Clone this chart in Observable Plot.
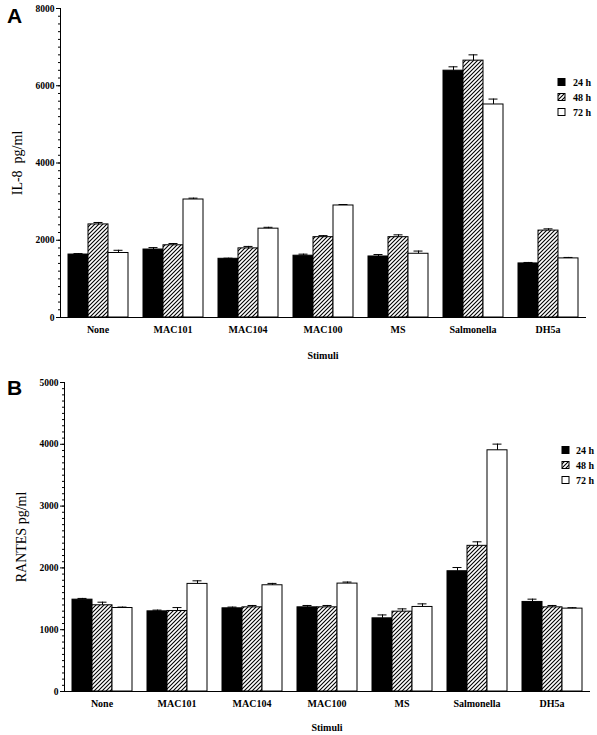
<!DOCTYPE html>
<html><head><meta charset="utf-8">
<script src="https://cdn.jsdelivr.net/npm/d3@7"></script>
<script src="https://cdn.jsdelivr.net/npm/@observablehq/plot@0.6"></script>
<style>
body{margin:0;background:#fff;}
#wrap{position:relative;width:597px;height:735px;overflow:hidden;background:#fff;}
.panel{position:absolute;left:0;}
.letter{position:absolute;font-family:"Liberation Sans",Arial,sans-serif;font-weight:bold;font-size:21px;line-height:1;}
.legend{position:absolute;overflow:visible;}
</style></head><body>
<svg width="0" height="0" style="position:absolute">
<defs>
<pattern id="hatch" patternUnits="userSpaceOnUse" width="4" height="4">
<rect width="4" height="4" fill="white"/>
<path d="M-1,1 l2,-2 M0,4 l4,-4 M3,5 l2,-2" stroke="black" stroke-width="1.1"/>
</pattern></defs></svg>
<div id="wrap"></div>
<script>
const stimuli = ["None","MAC101","MAC104","MAC100","MS","Salmonella","DH5a"];
const times = ["24 h","48 h","72 h"];

const il8_24 = [1630, 1760, 1520, 1600, 1580, 6390, 1400];
const il8_48 = [2410, 1870, 1790, 2080, 2080, 6650, 2250];
const il8_72 = [1670, 3055, 2300, 2900, 1650, 5515, 1530];
const il8_err24 = [25, 50, 15, 40, 50, 100, 25];
const il8_err48 = [50, 45, 50, 40, 60, 150, 45];
const il8_err72 = [70, 35, 35, 25, 70, 140, 25];

const rantes_24 = [1486, 1297, 1346, 1362, 1184, 1946, 1449];
const rantes_48 = [1395, 1303, 1362, 1362, 1292, 2357, 1362];
const rantes_72 = [1351, 1741, 1719, 1746, 1368, 3903, 1341];
const rantes_err24 = [20, 20, 20, 30, 55, 60, 45];
const rantes_err48 = [50, 55, 30, 30, 45, 65, 30];
const rantes_err72 = [15, 50, 30, 25, 50, 100, 15];

const fills = ["black", "url(#hatch)", "white"];

function rows(vals, errs) {
  return stimuli.flatMap((s, i) => times.map((t, j) => ({stim: s, time: t, value: vals[j][i], err: errs[j][i]})));
}
const dataA = rows([il8_24, il8_48, il8_72], [il8_err24, il8_err48, il8_err72]);
const dataB = rows([rantes_24, rantes_48, rantes_72], [rantes_err24, rantes_err48, rantes_err72]);

const serif = "'Liberation Serif','Times New Roman',serif";

function panel({data, yMax, yStep, minorStep, yLabel, height, mt, mb, ml, mr, xLabelOffset}) {
  return Plot.plot({
    width: 597, height,
    marginTop: mt, marginBottom: mb, marginLeft: ml, marginRight: mr,
    style: {fontFamily: serif, fontSize: "10px", fontWeight: "bold", background: "white", color: "black", overflow: "visible"},
    fx: {domain: stimuli, padding: 0},
    x: {domain: times, paddingInner: 0, paddingOuter: 0.37, axis: null},
    y: {domain: [0, yMax]},
    marks: [
      ...times.map((t, j) => Plot.barY(data.filter(d => d.time === t), {fx: "stim", x: "time", y: "value", fill: fills[j], stroke: "black", strokeWidth: 1})),
      Plot.ruleX(data, {fx: "stim", x: "time", y1: "value", y2: d => d.value + d.err, stroke: "black", strokeWidth: 1}),
      Plot.tickY(data, {fx: "stim", x: "time", y: d => d.value + d.err, insetLeft: 5.5, insetRight: 5.5, stroke: "black", strokeWidth: 1}),
      Plot.frame({anchor: "left", facet: "super", stroke: "black"}),
      Plot.frame({anchor: "bottom", facet: "super", stroke: "black"}),
      Plot.axisY({ticks: d3.range(0, yMax + 1, yStep), tickSize: 4, tickPadding: 2, tickFormat: d => String(d), label: null, fontWeight: "bold", fontSize: 9.5}),
      Plot.axisY({ticks: d3.range(0, yMax + 1, minorStep), tickSize: 2, tickFormat: () => "", label: null}),
      Plot.axisY({ticks: [], tickSize: 0, label: yLabel, labelAnchor: "center", labelArrow: "none", labelOffset: 48, fontSize: 14, fontWeight: "normal"}),
      Plot.axisFx({anchor: "bottom", tickSize: 0, tickPadding: 8, label: "Stimuli", labelAnchor: "center", labelArrow: "none", labelOffset: xLabelOffset, fontSize: 10})
    ]
  });
}

const wrap = document.getElementById("wrap");

const A = panel({data: dataA, yMax: 8000, yStep: 2000, minorStep: 200, yLabel: "IL-8\u00a0\u00a0pg/ml", height: 365, mt: 8, mb: 48, ml: 57, mr: 9, xLabelOffset: 41});
A.classList.add("panel"); A.style.top = "0px";
wrap.appendChild(A);

const B = panel({data: dataB, yMax: 5000, yStep: 1000, minorStep: 100, yLabel: "RANTES\u00a0pg/ml", height: 365, mt: 12, mb: 44, ml: 61, mr: 5, xLabelOffset: 39});
B.classList.add("panel"); B.style.top = "370px";
wrap.appendChild(B);

function letter(txt, left, top) {
  const d = document.createElement("div");
  d.className = "letter"; d.textContent = txt;
  d.style.left = left + "px"; d.style.top = top + "px";
  wrap.appendChild(d);
}
letter("A", 7, 5);
letter("B", 7, 377);

function legend(left, top, textX) {
  const svg = d3.create("svg").attr("class", "legend").attr("width", 50).attr("height", 45)
    .style("left", left + "px").style("top", top + "px");
  times.forEach((t, i) => {
    const cy = 10 + 15 * i;
    svg.append("rect").attr("x", 8).attr("y", cy - 3.5).attr("width", 7).attr("height", 7)
      .attr("fill", fills[i]).attr("stroke", "black").attr("stroke-width", 1);
    svg.append("text").attr("x", textX).attr("y", cy).attr("dy", "0.35em")
      .attr("font-family", serif).attr("font-weight", "bold").attr("font-size", 10).text(t);
  });
  wrap.appendChild(svg.node());
}
legend(550, 72, 23);
legend(554, 440, 22);
</script>
</body></html>
